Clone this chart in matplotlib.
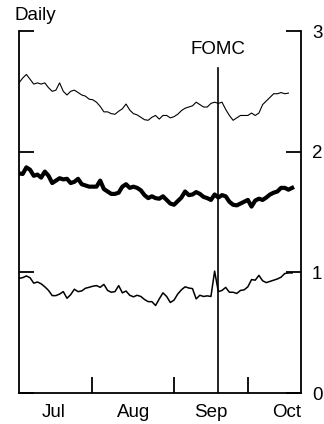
import numpy as np
import matplotlib
matplotlib.use('Agg')
from matplotlib import pyplot as plt

# daily series, one value per business day from early July
top_series = [2.57, 2.61, 2.64, 2.60, 2.56, 2.57, 2.56, 2.57, 2.53, 2.50,
              2.51, 2.57, 2.50, 2.47, 2.50, 2.51, 2.49, 2.47, 2.46, 2.435,
              2.43, 2.41, 2.375, 2.33, 2.33, 2.315, 2.31, 2.335, 2.355, 2.395,
              2.345, 2.315, 2.305, 2.285, 2.265, 2.26, 2.285, 2.30, 2.27, 2.30,
              2.30, 2.28, 2.29, 2.31, 2.34, 2.36, 2.37, 2.38, 2.41, 2.39,
              2.37, 2.37, 2.40, 2.41, 2.40, 2.41, 2.35, 2.30, 2.26, 2.28,
              2.30, 2.30, 2.30, 2.32, 2.30, 2.32, 2.39, 2.42, 2.45, 2.48,
              2.48, 2.49, 2.48, 2.485]

mid_series = [1.82, 1.815, 1.87, 1.85, 1.80, 1.81, 1.785, 1.835, 1.80, 1.74,
              1.76, 1.78, 1.77, 1.775, 1.74, 1.75, 1.775, 1.73, 1.72, 1.71,
              1.71, 1.71, 1.76, 1.69, 1.67, 1.65, 1.65, 1.66, 1.71, 1.73,
              1.70, 1.71, 1.70, 1.68, 1.64, 1.615, 1.63, 1.615, 1.61, 1.63,
              1.60, 1.57, 1.56, 1.59, 1.62, 1.67, 1.64, 1.645, 1.665, 1.65,
              1.625, 1.615, 1.60, 1.645, 1.62, 1.64, 1.63, 1.585, 1.56, 1.555,
              1.57, 1.585, 1.60, 1.545, 1.595, 1.61, 1.60, 1.62, 1.645, 1.66,
              1.67, 1.70, 1.70, 1.685, 1.70]

low_series = [0.95, 0.956, 0.97, 0.955, 0.91, 0.92, 0.905, 0.88, 0.85, 0.807,
              0.807, 0.82, 0.84, 0.785, 0.815, 0.86, 0.84, 0.846, 0.868, 0.876,
              0.885, 0.89, 0.876, 0.90, 0.85, 0.835, 0.84, 0.89, 0.83, 0.845,
              0.81, 0.797, 0.81, 0.80, 0.775, 0.757, 0.757, 0.725, 0.78, 0.83,
              0.80, 0.75, 0.77, 0.82, 0.855, 0.88, 0.87, 0.865, 0.78, 0.81,
              0.80, 0.805, 0.80, 1.01, 0.84, 0.85, 0.875, 0.835, 0.835, 0.825,
              0.85, 0.855, 0.88, 0.94, 0.935, 0.975, 0.93, 0.915, 0.925, 0.935,
              0.945, 0.96, 0.99, 0.995, 0.995]

months = ['Jul', 'Aug', 'Sep', 'Oct']
month_mid = [9.5, 31.0, 52.0, 72.6]      # label positions (business day index)
month_edges = [19.8, 42.0, 62.1]         # tick marks between months
fomc_day = 53.8
x_end = 76.4

plt.rcParams['font.family'] = ['Liberation Sans', 'DejaVu Sans']
fs = 13.5

fig = plt.figure(figsize=(3.24, 4.24), dpi=100)
ax = fig.add_axes([19/324, 31/424, 282/324, 362/424])

ax.plot(np.arange(len(top_series)), top_series, color='black', lw=0.8)
ax.plot(np.arange(len(mid_series)), mid_series, color='black', lw=3.0)
ax.plot(np.arange(len(low_series)), low_series, color='black', lw=1.1)

ax.axvline(fomc_day, ymax=2.695/3, color='black', lw=1.2)
ax.text(fomc_day, 2.85, 'FOMC', ha='center', va='center', fontsize=fs)

ax.set_xlim(0, x_end)
ax.set_ylim(0, 3)

ax.spines['top'].set_visible(False)
for s in ['left', 'right', 'bottom']:
    ax.spines[s].set_linewidth(1.3)

ax.set_yticks([0, 1, 2, 3])
ax.set_yticklabels(['0', '1', '2', '3'], fontsize=fs)
ax.set_yticks([3], minor=True)
ax.tick_params(axis='y', which='major', direction='in', left=True, right=True,
               labelleft=False, labelright=True, length=11, width=1.3, pad=8)
ax.tick_params(axis='y', which='minor', direction='in', left=True, right=True,
               length=23, width=1.3)

ax.set_xticks(month_mid)
ax.set_xticklabels(months, fontsize=fs)
ax.set_xticks(month_edges, minor=True)
ax.tick_params(axis='x', which='major', length=0, pad=8)
ax.tick_params(axis='x', which='minor', direction='in', length=11.5, width=1.3)

fig.text(15/324, 1 - 15/424, 'Daily', ha='left', va='center', fontsize=fs)

fig.savefig('out.png', dpi=100)
